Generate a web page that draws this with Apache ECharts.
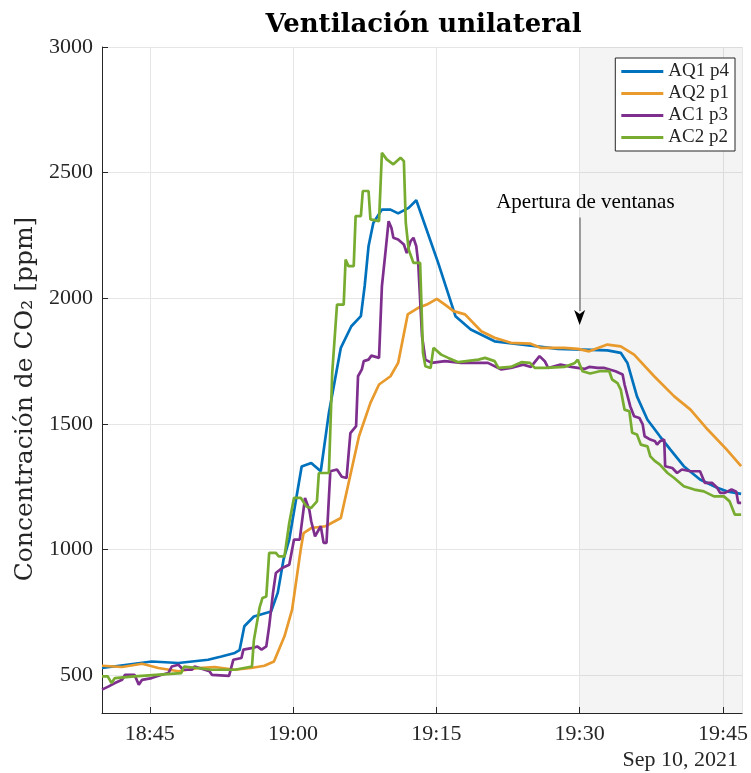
<!DOCTYPE html>
<html><head><meta charset="utf-8">
<script src="https://cdn.jsdelivr.net/npm/echarts@6/dist/echarts.min.js"></script>
<style>html,body{margin:0;padding:0;background:#fff}#c{width:751px;height:773px}</style>
</head><body><div id="c"></div>
<script>
// time = minutes after 18:00 (Sep 10, 2021), value = CO2 ppm
const seriesNames = ['AQ1 p4', 'AQ2 p1', 'AC1 p3', 'AC2 p2'];
const seriesColors = ['#0072BD', '#E89A2C', '#7E2F8E', '#77AC30'];

const aq1p4 = [[40,529],[45.2,555],[48,549],[51.1,562],[52.5,575],[53.9,589],[54.4,600],[54.9,695],[55.9,734],[57.7,754],[58.4,829],[59,960],[59.6,1040],[60.9,1331],[61.9,1345],[62.9,1312],[63.75,1544],[65,1803],[66.1,1889],[67.1,1929],[67.5,2050],[67.9,2207],[68.4,2300],[69.3,2353],[70.2,2353],[71,2338],[72.1,2360],[72.9,2390],[75.2,2140],[77,1929],[78.6,1876],[81.1,1829],[84.9,1812],[87.7,1799],[92.9,1793],[94.3,1783],[95,1743],[96,1610],[97.1,1517],[98.4,1451],[99.5,1398],[100.9,1332],[102.6,1279],[104.4,1246],[105.4,1232],[106.9,1222]];

const aq2p1 = [[40,538],[42.1,533],[44.2,546],[45.9,529],[48,516],[50.1,529],[51.8,533],[53.9,522],[55.6,529],[57,538],[58,555],[59.1,655],[59.9,761],[60.8,1000],[61.1,1066],[61.9,1086],[63.4,1093],[65,1126],[66.9,1451],[68.1,1584],[69,1657],[70.2,1690],[71,1743],[72,1936],[73.1,1962],[74,1975],[75.05,1998],[75.9,1975],[76.8,1949],[78,1936],[79.7,1869],[81.1,1843],[82.8,1823],[84.8,1820],[85.9,1803],[88.4,1803],[89.8,1799],[91,1789],[92.9,1816],[94.3,1809],[95.7,1776],[97.8,1690],[99.9,1610],[101.6,1557],[103.4,1478],[105.4,1398],[106.9,1332]];

const ac1p3 = [[40,443],[40.7,456],[41.35,469],[42.1,482],[42.4,502],[43.4,502],[43.85,463],[44.2,482],[45.2,489],[46.25,502],[46.95,509],[47.3,535],[48,542],[48.5,522],[49.4,522],[49.7,535],[51.25,516],[51.5,502],[53.3,498],[53.75,562],[54.6,569],[54.8,602],[55.8,609],[56.25,615],[56.7,602],[57.2,615],[57.5,695],[57.9,828],[58.2,907],[58.85,927],[59.6,940],[60.1,1040],[60.7,1040],[61.25,1206],[61.7,1159],[61.9,1113],[62.3,1053],[62.7,1080],[62.9,1093],[63.2,1027],[63.5,1027],[63.9,1312],[64.6,1319],[65.1,1290],[65.6,1285],[66,1464],[66.6,1491],[66.8,1690],[67.2,1717],[67.4,1750],[67.9,1756],[68.2,1772],[69,1763],[69.3,2048],[69.7,2194],[70,2307],[70.3,2280],[70.5,2241],[71,2234],[71.6,2214],[71.9,2180],[72.3,2227],[72.6,2241],[72.9,2207],[73.1,2141],[73.5,1850],[73.85,1756],[74.5,1743],[75.9,1750],[77.6,1743],[80.4,1743],[81.8,1717],[82.8,1723],[84.1,1736],[84.9,1727],[85.8,1770],[86.35,1750],[86.7,1723],[88,1736],[89.1,1727],[90.5,1719],[91,1727],[91.9,1723],[92.6,1723],[93.75,1710],[94.5,1697],[94.7,1657],[95.3,1570],[95.7,1531],[96.25,1524],[96.6,1498],[96.8,1451],[97.4,1438],[97.9,1431],[98.1,1418],[98.4,1431],[98.85,1438],[98.95,1332],[99.7,1325],[100.2,1305],[100.7,1319],[101.6,1312],[102.6,1312],[103.1,1266],[103.85,1266],[104.4,1246],[104.7,1226],[105.2,1226],[105.9,1239],[106.4,1230],[106.6,1186],[106.9,1186]];

const ac2p2 = [[40,496],[40.6,496],[41,469],[41.35,489],[43.4,496],[48.3,509],[48.6,535],[51.5,522],[53.9,522],[55.7,535],[55.9,640],[56.5,770],[56.8,808],[57.2,814],[57.5,987],[58.2,987],[58.5,973],[59.1,973],[59.6,1106],[60.1,1206],[60.8,1206],[61.4,1172],[61.9,1166],[62.5,1192],[62.7,1305],[63.75,1305],[64.1,1703],[64.6,1975],[65.3,1975],[65.5,2154],[65.8,2128],[66.35,2128],[66.55,2327],[67.1,2327],[67.3,2427],[67.9,2427],[68.1,2314],[69,2307],[69.3,2579],[69.8,2553],[70.5,2533],[71.25,2559],[71.6,2546],[71.8,2300],[72.1,2194],[72.6,2141],[73.3,2141],[73.6,1783],[73.85,1730],[74.4,1723],[74.7,1803],[75.5,1776],[76.25,1763],[77.3,1746],[79.4,1756],[80.1,1763],[81.1,1750],[81.5,1723],[82.8,1727],[83.9,1746],[84.8,1743],[85.3,1723],[86.4,1723],[88.4,1727],[89.5,1743],[89.8,1756],[90.3,1710],[91.1,1701],[92.1,1710],[93.1,1710],[93.4,1677],[93.96,1663],[94.3,1637],[94.7,1557],[95.2,1551],[95.5,1465],[96,1458],[96.4,1418],[97.1,1411],[97.4,1371],[97.9,1352],[98.4,1338],[99.2,1305],[99.9,1285],[100.9,1252],[102,1239],[103,1232],[104.06,1212],[105.1,1212],[105.7,1192],[106.25,1139],[106.9,1139]];

const xMin = 40, xMax = 107, xStep = 15;
const yMin = 350, yMax = 3000, yStep = 500;
const openTime = 90;          // 19:30 – apertura de ventanas
const arrowTop = 2322, arrowBottom = 1950, arrowHead = 1924, labelY = 2380;
const annotText = 'Apertura de ventanas';
const titleText = 'Ventilación unilateral';
const yName = 'Concentración de CO₂ [ppm]';
const dateText = 'Sep 10, 2021';

const serif = '"Liberation Serif", "Times New Roman", serif';
const ink = '#262626';

function fmtTime(v) {
  const h = 18 + Math.floor(v / 60);
  const m = Math.round(v % 60);
  return h + ':' + (m < 10 ? '0' + m : m);
}

const allData = [aq1p4, aq2p1, ac1p3, ac2p2];
const series = allData.map((d, i) => {
  const s = {
    name: seriesNames[i], type: 'line', data: d, symbol: 'none', showSymbol: false,
    lineStyle: { width: 2.7, color: seriesColors[i] }, itemStyle: { color: seriesColors[i] },
    z: 3 + i, animation: false
  };
  if (i === 0) {
    s.markArea = {
      silent: true,
      itemStyle: { color: 'rgba(0,0,0,0.045)' },
      data: [[{ xAxis: openTime }, { xAxis: xMax }]]
    };
    s.markLine = {
      silent: true, symbol: ['none', 'none'], animation: false,
      lineStyle: { color: '#808080', width: 1.5, type: 'solid' },
      label: { show: false },
      data: [[{ coord: [openTime, arrowTop] }, { coord: [openTime, arrowBottom] }]]
    };
    s.markPoint = {
      silent: true, animation: false,
      data: [
        { coord: [openTime, arrowHead], symbol: 'path://M0,0L6,15L12,0L6,4Z', symbolSize: [11, 15],
          itemStyle: { color: '#000' }, label: { show: false } },
        { coord: [openTime + 0.6, labelY], symbol: 'circle', symbolSize: 0,
          label: { show: true, position: 'inside', formatter: annotText, color: '#000',
                   fontFamily: serif, fontSize: 21 } }
      ]
    };
  }
  return s;
});

const chart = echarts.init(document.getElementById('c'), null, { renderer: 'canvas' });
chart.setOption({
  animation: false,
  backgroundColor: '#fff',
  grid: { left: 102, right: 6, top: 47, bottom: 60, containLabel: false },
  legend: {
    orient: 'vertical', right: 16, top: 58,
    icon: 'rect', itemWidth: 42, itemHeight: 3, itemGap: 3,
    padding: [4, 6, 4, 6],
    borderColor: ink, borderWidth: 1, backgroundColor: '#fff',
    textStyle: { fontFamily: serif, fontSize: 19, color: ink },
    data: seriesNames
  },
  xAxis: {
    type: 'value', min: xMin, max: xMax, minInterval: xStep, maxInterval: xStep,
    axisLine: { show: true, onZero: false, lineStyle: { color: ink, width: 1 } },
    axisTick: { show: true, inside: true, length: 6, lineStyle: { color: ink } },
    axisLabel: { formatter: fmtTime, showMinLabel: false, showMaxLabel: false,
                 fontFamily: serif, fontSize: 22, color: ink, margin: 10 },
    splitLine: { show: true, lineStyle: { color: '#e6e6e6', width: 1 } }
  },
  yAxis: {
    type: 'value', min: yMin, max: yMax, minInterval: yStep, maxInterval: yStep,
    axisLine: { show: true, onZero: false, lineStyle: { color: ink, width: 1 } },
    axisTick: { show: true, inside: true, length: 6, lineStyle: { color: ink } },
    axisLabel: { showMinLabel: false, formatter: v => String(v),
                 fontFamily: serif, fontSize: 22, color: ink, margin: 9 },
    splitLine: { show: true, lineStyle: { color: '#e6e6e6', width: 1 } },
    name: yName, nameLocation: 'middle', nameGap: 50, nameRotate: 90,
    nameTextStyle: { fontFamily: '"DejaVu Serif", serif', fontSize: 25, color: ink,
                     padding: [0, 38, 0, 0] }
  },
  graphic: [
    { type: 'text', x: 423.5, y: 25,
      style: { text: titleText, align: 'center', verticalAlign: 'middle',
               font: 'bold 26px "DejaVu Serif", serif', fill: '#000' } },
    { type: 'text', x: 738, y: 760,
      style: { text: dateText, align: 'right', verticalAlign: 'middle',
               font: '22px "Liberation Serif", serif', fill: ink } }
  ],
  series: series
});
</script>
</body></html>
